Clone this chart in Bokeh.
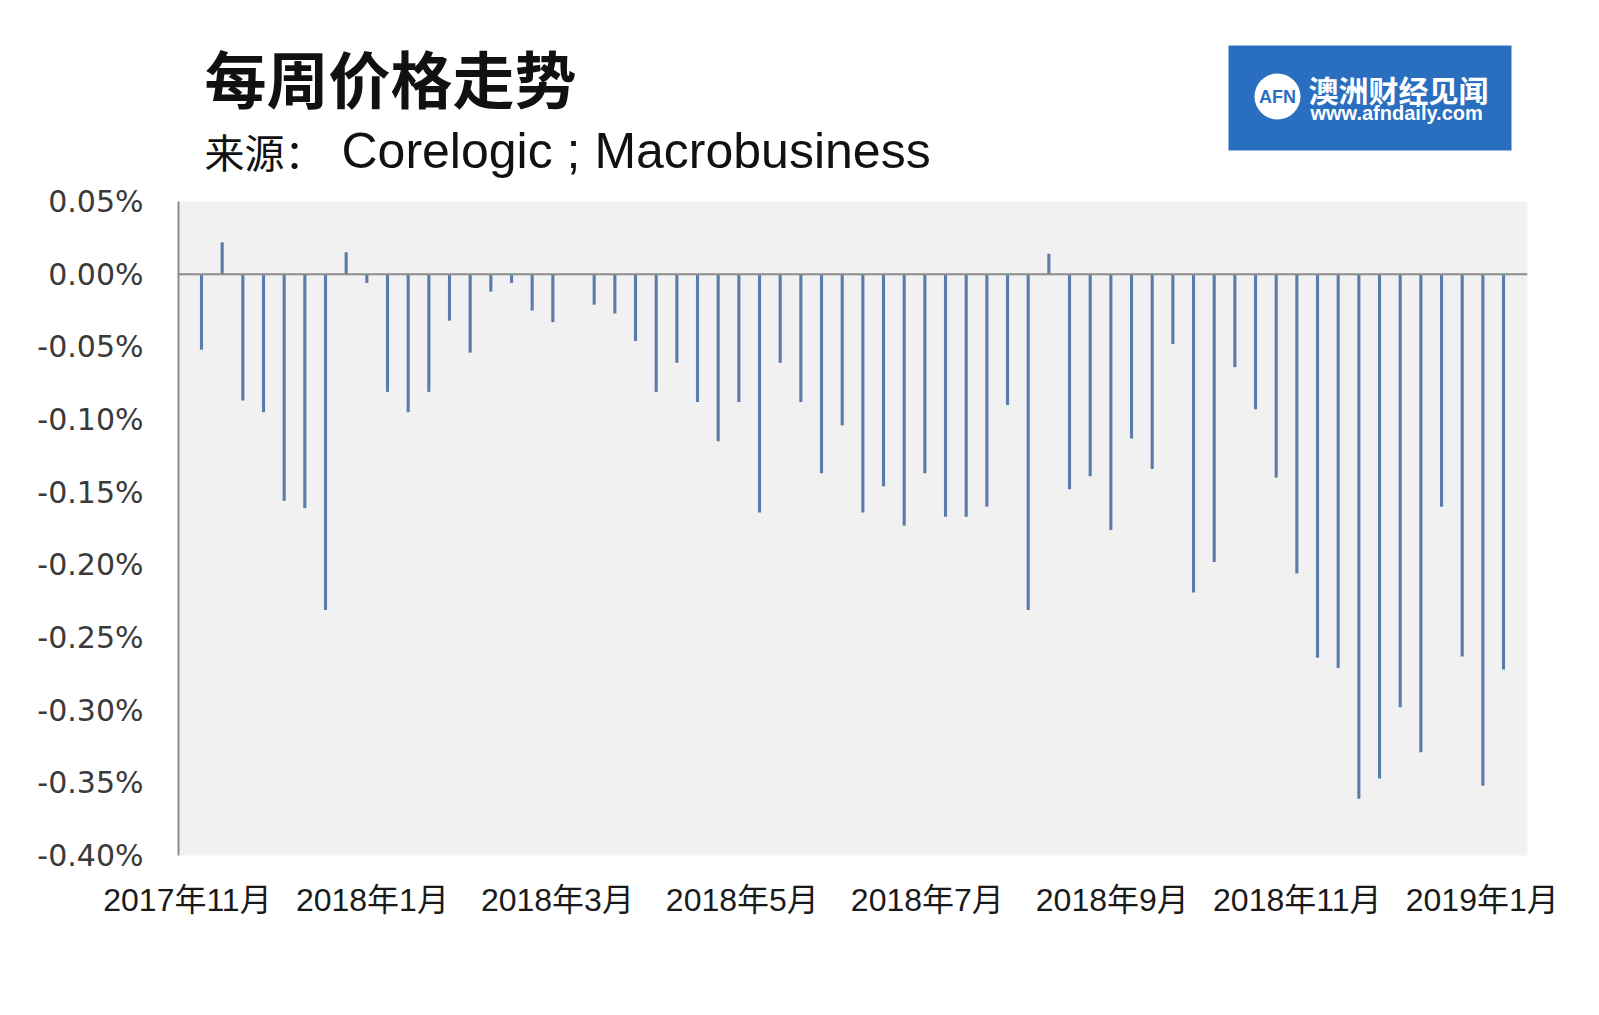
from bokeh.plotting import figure
from bokeh.models import Range1d, FixedTicker, Span, ColumnDataSource
from bokeh.layouts import column
from bokeh.embed import file_html
from bokeh.resources import INLINE
from bokeh.core.properties import value

# ---------------- data ----------------
title_text = "每周价格走势"
source_label = "来源："
source_names = "Corelogic ; Macrobusiness"
logo_cn = "澳洲财经见闻"
logo_url = "www.afndaily.com"
logo_mark = "AFN"

# weekly change in dwelling prices (%), Nov 2017 - Jan 2019
weekly_change = [-0.052, 0.022, -0.087, -0.095, -0.156, -0.161, -0.231, 0.015, -0.006, -0.081,
                 -0.095, -0.081, -0.032, -0.054, -0.012, -0.006, -0.025, -0.033, 0.0, -0.021,
                 -0.027, -0.046, -0.081, -0.061, -0.088, -0.115, -0.088, -0.164, -0.061, -0.088,
                 -0.137, -0.104, -0.164, -0.146, -0.173, -0.137, -0.167, -0.167, -0.160, -0.090,
                 -0.231, 0.014, -0.148, -0.139, -0.176, -0.113, -0.134, -0.048, -0.219, -0.198,
                 -0.064, -0.093, -0.140, -0.206, -0.264, -0.271, -0.361, -0.347, -0.298, -0.329,
                 -0.160, -0.263, -0.352, -0.272]
week_index = list(range(len(weekly_change)))

x_tick_labels = ["2017年11月", "2018年1月", "2018年3月", "2018年5月",
                 "2018年7月", "2018年9月", "2018年11月", "2019年1月"]
y_ticks = [0.05, 0.0, -0.05, -0.10, -0.15, -0.20, -0.25, -0.30, -0.35, -0.40]
y_tick_labels = ["0.05%", "0.00%", "-0.05%", "-0.10%", "-0.15%", "-0.20%",
                 "-0.25%", "-0.30%", "-0.35%", "-0.40%"]

# ---------------- layout ----------------
W = 1590
HEAD_H = 183
MAIN_H = 824
LEFT = 178
RIGHT_EDGE = 1527
CJK = "Noto Sans CJK SC"

# header (title, source, logo) -- x in page pixels, frame aligned with the chart frame
head = figure(width=W, height=HEAD_H, x_range=Range1d(LEFT, RIGHT_EDGE), y_range=Range1d(HEAD_H, 0),
              x_axis_type=None, y_axis_type=None, output_backend="svg",
              toolbar_location=None, min_border=0, min_border_left=LEFT,
              min_border_right=W - RIGHT_EDGE, outline_line_color=None,
              background_fill_color="white", border_fill_color="white")
head.grid.visible = False

head.text(x=[204], y=[76], text=[title_text], text_font=value(CJK), text_font_size="62px",
          text_font_style="bold", text_baseline="middle", text_align="left", text_color="#111111")
head.text(x=[204], y=[150], text=[source_label], text_font=value(CJK), text_font_size="40px",
          text_baseline="middle", text_align="left", text_color="#111111")
head.text(x=[341], y=[150], text=[source_names], text_font=value("Liberation Sans"),
          text_font_size="50px", text_baseline="middle", text_align="left", text_color="#111111")

logo_blue = "#2a6ebf"
head.quad(left=[1228], right=[1511], top=[45], bottom=[150], fill_color=logo_blue, line_color=None)
head.circle(x=[1277], y=[96], radius=23, fill_color="white", line_color=None)
head.text(x=[1277], y=[96], text=[logo_mark], text_font=value("Liberation Sans"),
          text_font_size="18px", text_font_style="bold", text_baseline="middle",
          text_align="center", text_color=logo_blue)
head.text(x=[1308], y=[88], text=[logo_cn], text_font=value(CJK), text_font_size="30px",
          text_font_style="bold", text_baseline="middle", text_align="left", text_color="white")
head.text(x=[1310], y=[112], text=[logo_url], text_font=value("Liberation Sans"),
          text_font_size="20px", text_font_style="bold", text_baseline="middle",
          text_align="left", text_color="white")

# main chart
p = figure(width=W, height=MAIN_H, x_range=Range1d(-1.113, 64.16), y_range=Range1d(-0.40, 0.05),
           output_backend="svg", toolbar_location=None,
           min_border_left=LEFT, min_border_right=W - RIGHT_EDGE, min_border_top=18,
           min_border_bottom=152,
           background_fill_color="#f1f1f1", border_fill_color="white", outline_line_color=None)
p.grid.visible = False

src = ColumnDataSource(dict(x=week_index, v=weekly_change))
p.vbar(x="x", top="v", bottom=0, width=0.15, source=src, fill_color="#5a7cab", line_color=None)

p.add_layout(Span(location=0, dimension="width", line_color="#8c8c8c", line_width=2))

# y axis
p.yaxis.ticker = FixedTicker(ticks=y_ticks)
p.yaxis.major_label_overrides = {t: l for t, l in zip(y_ticks, y_tick_labels)}
p.yaxis.axis_line_color = "#8c8c8c"
p.yaxis.axis_line_width = 2
p.yaxis.major_tick_line_color = None
p.yaxis.minor_tick_line_color = None
p.yaxis.major_label_text_font = "DejaVu Sans"
p.yaxis.major_label_text_font_size = "30px"
p.yaxis.major_label_text_color = "#3a3a3a"
p.yaxis.major_label_standoff = 29

# x axis (month labels)
first_tick, tick_step = -0.68, 8.95
x_tick_pos = [first_tick + i * tick_step for i in range(len(x_tick_labels))]
p.xaxis.ticker = FixedTicker(ticks=x_tick_pos)
p.xaxis.major_label_overrides = {t: l for t, l in zip(x_tick_pos, x_tick_labels)}
p.xaxis.axis_line_color = None
p.xaxis.major_tick_line_color = None
p.xaxis.minor_tick_line_color = None
p.xaxis.major_label_text_font = "Liberation Sans, Noto Sans CJK SC"
p.xaxis.major_label_text_font_size = "32px"
p.xaxis.major_label_text_color = "#1a1a1a"
p.xaxis.major_label_standoff = 20

layout = column(head, p)
open("out.html", "w").write(file_html(layout, INLINE))
